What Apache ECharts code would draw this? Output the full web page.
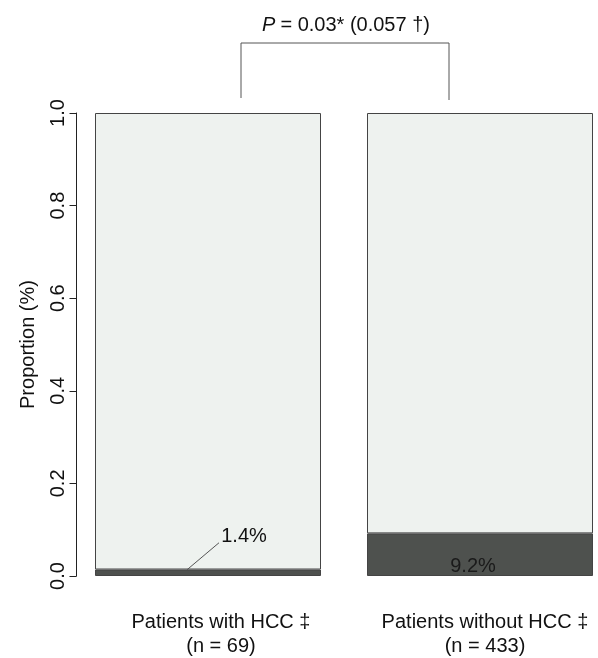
<!DOCTYPE html>
<html>
<head>
<meta charset="utf-8">
<script src="https://cdn.jsdelivr.net/npm/echarts@6/dist/echarts.min.js"></script>
<style>
html,body{margin:0;padding:0;background:#fff;}
#c{width:598px;height:658px;}
</style>
</head>
<body>
<div id="c"></div>
<script>
// ---- data ----
const categories = ['Patients with HCC ‡\n(n = 69)', 'Patients without HCC ‡\n(n = 433)'];
const proportionPositive = [0.014, 0.092];
const proportionRest = [0.986, 0.908];
const percentLabels = ['1.4%', '9.2%'];
const yTicks = [0.0, 0.2, 0.4, 0.6, 0.8, 1.0];

const FONT = '"Liberation Sans", Arial, Helvetica, sans-serif';
const LIGHT = '#eef2ef';
const DARK = '#4e514e';
const EDGE = '#444';

const chart = echarts.init(document.getElementById('c'), null, {renderer: 'canvas'});

const GRID_LEFT = 208, GRID_RIGHT = 118, AXIS_X = 76.5;

const option = {
  backgroundColor: '#fff',
  animation: false,
  title: {
    text: '{i|P} {n|= 0.03* (0.057 †)}',
    left: 341,
    top: 10,
    textAlign: 'center',
    textStyle: {
      fontWeight: 'normal',
      rich: {
        i: {fontFamily: FONT, fontSize: 20, fontStyle: 'italic', fontWeight: 'normal', color: '#111'},
        n: {fontFamily: FONT, fontSize: 20, fontWeight: 'normal', color: '#111'}
      }
    }
  },
  grid: {left: GRID_LEFT, right: GRID_RIGHT, top: 113, bottom: 74, containLabel: false},
  xAxis: {
    type: 'category',
    boundaryGap: false,
    data: [
      {value: categories[0], textStyle: {padding: [0, 0, 0, 26]}},
      {value: categories[1], textStyle: {padding: [0, 0, 0, 10]}}
    ],
    axisLine: {show: false},
    axisTick: {show: false},
    axisLabel: {
      margin: 34,
      fontFamily: FONT,
      fontSize: 20,
      color: '#111',
      lineHeight: 24,
      interval: 0
    }
  },
  yAxis: {
    type: 'value',
    min: 0,
    max: 1,
    interval: 0.2,
    offset: GRID_LEFT - AXIS_X,
    name: 'Proportion (%)',
    nameLocation: 'middle',
    nameGap: 38,
    nameRotate: 90,
    nameTextStyle: {fontFamily: FONT, fontSize: 20, color: '#111'},
    axisLine: {show: true, lineStyle: {color: '#222', width: 1}},
    axisTick: {show: true, length: 7, lineStyle: {color: '#222', width: 1}},
    splitLine: {show: false},
    axisLabel: {
      rotate: 90,
      margin: 8,
      fontFamily: FONT,
      fontSize: 20,
      color: '#111',
      formatter: v => v.toFixed(1)
    }
  },
  series: [
    {
      type: 'bar',
      stack: 'p',
      barWidth: 226,
      data: proportionPositive.map((v, i) => ({
        value: v,
        label: {
          show: i === 1,
          position: 'inside',
          offset: [-7, 12],
          formatter: percentLabels[i],
          fontFamily: FONT,
          fontSize: 20,
          color: '#1a1a1a'
        }
      })),
      itemStyle: {color: DARK, borderColor: EDGE, borderWidth: 1}
    },
    {
      type: 'bar',
      stack: 'p',
      barWidth: 226,
      data: proportionRest,
      itemStyle: {color: LIGHT, borderColor: EDGE, borderWidth: 1}
    }
  ]
};
chart.setOption(option);

// annotations: significance bracket and leader label for the small segment
const bracketL = 241, bracketR = 449, bracketTop = 43;
let p0 = chart.convertToPixel({seriesIndex: 0}, [0, proportionPositive[0]]);
let base0 = chart.convertToPixel({seriesIndex: 0}, [0, 0]);
if (!p0 || isNaN(p0[0]) || isNaN(p0[1])) { p0 = [GRID_LEFT, 577]; base0 = [GRID_LEFT, 584]; }
const segY = (p0[1] + base0[1]) / 2;
chart.setOption({
  graphic: [
    {
      type: 'polyline',
      z: 100,
      shape: {points: [[bracketL, 98], [bracketL, bracketTop], [bracketR, bracketTop], [bracketR, 100]]},
      style: {stroke: '#555', lineWidth: 1, fill: null}
    },
    {
      type: 'line',
      z: 100,
      shape: {x1: p0[0] - 21, y1: segY - 3, x2: p0[0] + 11, y2: segY - 30},
      style: {stroke: '#555', lineWidth: 1}
    },
    {
      type: 'text',
      z: 100,
      x: p0[0] + 36,
      y: segY - 36,
      style: {
        text: percentLabels[0],
        font: '20px ' + FONT,
        fill: '#111',
        align: 'center',
        verticalAlign: 'middle'
      }
    }
  ]
});
</script>
</body>
</html>
